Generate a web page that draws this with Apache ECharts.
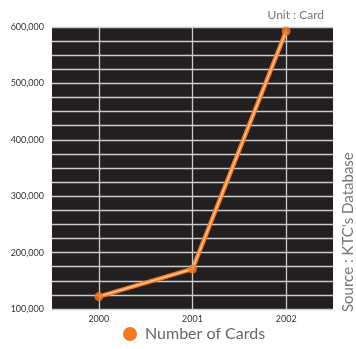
<!DOCTYPE html>
<html>
<head>
<meta charset="utf-8">
<script src="https://cdn.jsdelivr.net/npm/echarts@6/dist/echarts.min.js"></script>
<style>
  html, body { margin: 0; padding: 0; background: #fff; }
  #chart { width: 356px; height: 349px; }
</style>
</head>
<body>
<div id="chart"></div>
<script>
// Issued transit cards per year
const years = ['2000', '2001', '2002'];
const cardCounts = [122000, 171000, 593000];
const yTickLabels = [100000, 200000, 300000, 400000, 500000, 600000];

const chart = echarts.init(document.getElementById('chart'));
const fontFamily = 'Lato, "DejaVu Sans", sans-serif';

chart.setOption({
  animation: false,
  backgroundColor: '#ffffff',
  grid: { left: 52, right: 23, top: 27, bottom: 40, show: true, backgroundColor: '#231f20', borderWidth: 0 },
  title: [
    { text: 'Unit : Card', right: 27, top: 4, textStyle: { fontFamily, fontSize: 12, fontWeight: 'normal', color: '#777' } }
  ],
  graphic: [
    {
      type: 'text', rotation: Math.PI / 2, x: 341, y: 312,
      style: { text: "Source : KTC's Database", fontFamily, fontSize: 15, fill: '#777', textAlign: 'left', textVerticalAlign: 'top' }
    }
  ],
  legend: {
    bottom: 2, left: 118, itemWidth: 14, itemHeight: 14, itemGap: 6, icon: 'circle',
    data: [{ name: 'Number of Cards', itemStyle: { color: '#f47920' } }],
    textStyle: { fontFamily, fontSize: 16, color: '#666', padding: [0, 0, 0, 3] }
  },
  xAxis: {
    type: 'category', data: years, boundaryGap: true,
    axisLine: { show: false }, axisTick: { show: false },
    axisLabel: { fontFamily, fontSize: 9, color: '#333', margin: 6 },
    splitLine: { show: false }
  },
  yAxis: {
    type: 'value', min: 100000, max: 600000, interval: 25000,
    axisLine: { show: false }, axisTick: { show: false },
    axisLabel: {
      fontFamily, fontSize: 9, color: '#333', margin: 8,
      formatter: v => yTickLabels.includes(v) ? v.toLocaleString('en-US') : ''
    },
    splitLine: { show: true, lineStyle: { color: '#cccccc', width: 1.3 } }
  },
  series: [
    {
      name: 'Number of Cards', type: 'line', data: cardCounts,
      symbol: 'none',
      itemStyle: { color: '#f47920' },
      lineStyle: { color: '#f47920', width: 4.5 },
      markLine: {
        silent: true, symbol: 'none', label: { show: false },
        lineStyle: { color: '#cccccc', type: 'solid', width: 1.3 },
        data: years.map(y => ({ xAxis: y }))
      },
      z: 3
    },
    {
      name: 'highlight', type: 'line', data: cardCounts,
      symbol: 'none', silent: true,
      lineStyle: { color: '#fbc49a', width: 1.5 },
      z: 4
    },
    {
      name: 'points', type: 'scatter', data: cardCounts,
      symbol: 'circle', symbolSize: 9, silent: true,
      itemStyle: { color: '#f47920' },
      z: 5
    }
  ]
});
</script>
</body>
</html>
